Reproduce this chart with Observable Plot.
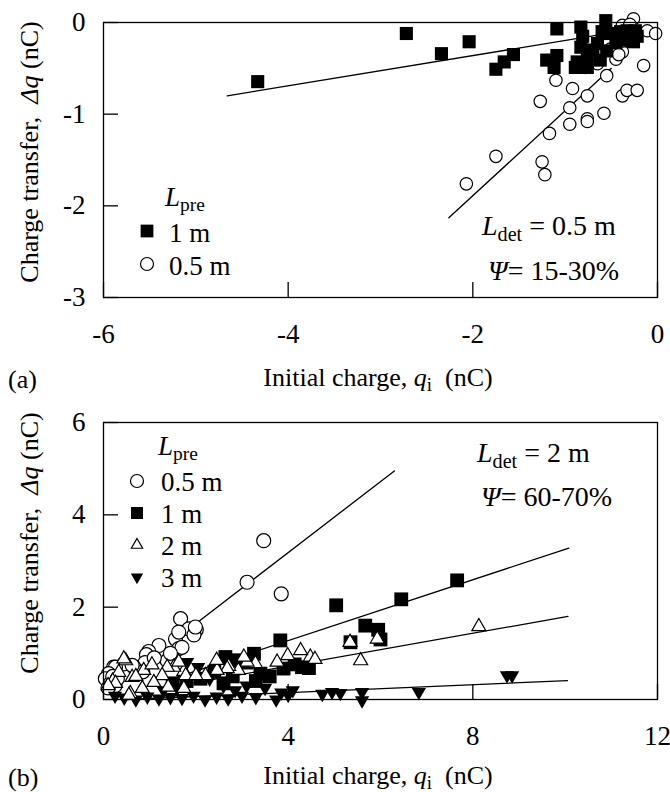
<!DOCTYPE html>
<html><head><meta charset="utf-8">
<script src="https://cdn.jsdelivr.net/npm/d3@7"></script>
<script src="https://cdn.jsdelivr.net/npm/@observablehq/plot@0.6"></script>
<style>
body{margin:0;background:#fff;}
#root{position:relative;width:670px;height:792px;font-family:"Liberation Serif","Times New Roman",Times,"DejaVu Serif",serif;color:#000;overflow:hidden;background:#fff}
.t{position:absolute;font-size:28px;line-height:1;white-space:nowrap;transform:translateY(-50%)}
.lg{font-size:27px}
.ttl{font-size:26px}
.c{transform:translate(-50%,-50%)}
.rot{transform:translate(-50%,-50%) rotate(-90deg)}
.sub{font-size:0.72em;vertical-align:-0.28em;line-height:1}
.panel{position:absolute;left:0}
.mk{position:absolute;overflow:visible}
svg text{font-family:"Liberation Serif","Times New Roman",Times,"DejaVu Serif",serif;}
</style></head><body><div id="root"></div>
<script>
// ---------- Panel (a) data: [initial charge qi (nC), charge transfer Δq (nC)] ----------
const xTicksA = [-6, -4, -2, 0];
const yTicksA = [-3, -2, -1, 0];
const a_1m = [[-4.33,-0.645],[-2.72,-0.12],[-2.34,-0.34],[-2.04,-0.21],[-1.75,-0.51],[-1.66,-0.43],[-1.56,-0.35],
  [-1.09,-0.07],[-1.20,-0.41],[-1.09,-0.36],[-1.12,-0.49],[-0.83,-0.05],[-0.81,-0.15],[-0.83,-0.27],[-0.87,-0.43],
  [-0.89,-0.49],[-0.76,-0.36],[-0.65,-0.23],[-0.56,0.02],[-0.62,-0.41],[-0.51,-0.12],[-0.55,-0.31],[-0.33,-0.09],
  [-0.24,-0.09],[-0.26,-0.21],[-0.37,-0.19],[-0.76,-0.49],[-0.70,-0.30],[-0.45,-0.22],[-0.40,-0.10],[-0.22,-0.15],[-0.60,-0.10]];
const a_05m = [[-0.26,0.04],[-0.38,-0.03],[-0.11,-0.09],[-0.02,-0.12],[-0.38,-0.32],[-0.37,-0.20],[-0.51,-0.29],
  [-0.15,-0.47],[-0.55,-0.58],[-0.78,-0.49],[-1.10,-0.63],[-0.92,-0.72],[-0.76,-0.80],[-1.27,-0.86],[-0.95,-0.93],
  [-0.58,-0.99],[-0.76,-1.05],[-0.76,-1.08],[-0.95,-1.11],[-1.17,-1.21],[-0.38,-0.80],[-0.33,-0.74],[-0.22,-0.74],
  [-2.07,-1.76],[-1.75,-1.46],[-1.25,-1.52],[-1.22,-1.66],[-0.30,-0.02],[-0.45,-0.40],[-0.65,-0.45],[-0.42,-0.35]];
const a_fit_1m = [[-4.66,-0.80],[-0.60,-0.13]];
const a_fit_05m = [[-2.26,-2.13],[-0.50,-0.50]];

// ---------- Panel (b) data ----------
const xTicksB = [0, 4, 8, 12];
const yTicksB = [0, 2, 4, 6];
const b_05m = [[3.47,3.44],[3.11,2.54],[3.85,2.29],[1.67,1.75],[1.85,1.53],[2.01,1.51],[1.96,1.40],[1.99,1.57],
  [1.56,1.31],[1.63,1.46],[1.20,1.17],[1.63,1.10],[1.70,1.13],[0.98,1.04],[0.93,0.97],[1.38,0.84],[0.90,0.80],
  [0.66,0.70],[0.44,0.77],[0.22,0.70],[0.85,0.60],[0.62,0.74],[0.26,0.70],[0.11,0.56],[0.04,0.45],[0.15,0.35],
  [0.20,0.50],[0.25,0.30],[0.10,0.25],[0.30,0.45],[1.10,0.90],[1.45,1.00]];
const b_1m = [[7.66,2.58],[6.45,2.17],[5.04,2.04],[5.67,1.60],[5.95,1.51],[6.00,1.30],[5.35,1.24],[4.30,0.70],
  [4.45,0.68],[3.83,1.28],[3.26,0.99],[2.64,0.92],[3.40,0.56],[3.90,0.67],[4.14,0.76],[2.90,0.85],[3.10,0.80],
  [2.40,0.60],[2.10,0.45],[1.80,0.40],[2.80,0.50],[3.60,0.50],[1.50,0.35],[2.60,0.35],[3.30,0.40]];
const b_2m = [[8.13,1.58],[5.93,1.31],[5.34,1.24],[5.57,0.84],[4.48,0.92],[4.58,0.87],[4.27,1.06],[3.99,0.95],
  [3.76,0.81],[3.29,0.78],[3.11,0.81],[3.04,0.92],[2.92,0.63],[2.71,0.72],[2.68,0.67],[2.46,0.63],[2.21,0.52],
  [1.74,0.61],[1.78,0.52],[2.00,0.52],[1.52,0.70],[1.63,0.81],[1.38,0.70],[1.27,0.52],[1.09,0.37],[0.87,0.63],
  [0.62,0.48],[0.48,0.84],[0.44,0.88],[0.33,0.59],[0.20,0.40],[0.26,0.35],[0.58,0.13],[0.55,0.09],[0.84,0.24],
  [1.74,0.24],[1.40,0.27],[0.70,0.50],[0.10,0.30],[1.05,0.75],[2.45,0.85]];
const b_3m = [[8.74,0.52],[8.85,0.52],[6.83,0.16],[5.60,0.16],[5.60,-0.02],[5.13,0.14],[4.95,0.16],[4.74,0.12],
  [4.00,0.10],[3.74,0.00],[3.30,0.05],[3.00,0.08],[2.70,0.02],[2.45,0.06],[2.20,0.00],[1.95,0.08],[1.70,0.03],
  [1.45,0.05],[1.20,0.02],[0.95,0.06],[0.70,0.00],[0.45,0.04],[0.25,0.08],[1.81,0.81],[2.05,0.70],[2.30,0.45],
  [2.60,0.30],[2.85,0.20],[3.10,0.30],[3.50,0.25],[1.60,0.25],[1.30,0.20],[3.85,0.15],[4.10,0.20]];
const b_fit_05m = [[1.80,1.49],[6.30,4.95]];
const b_fit_1m = [[1.50,0.45],[10.08,3.28]];
const b_fit_2m = [[1.50,0.28],[10.06,1.80]];
const b_fit_3m = [[0.50,0.00],[10.05,0.41]];

// ---------- drawing ----------
const FONT = '"Liberation Serif", "Times New Roman", Times, "DejaVu Serif", serif';
const triDown = {draw(ctx, size){ const y = Math.sqrt(size/(Math.sqrt(3)*3)), s = Math.sqrt(3);
  ctx.moveTo(0, 2*y); ctx.lineTo(s*y, -y); ctx.lineTo(-s*y, -y); ctx.closePath(); }};
const fmt = d => String(d);
const X = d => d[0], Y = d => d[1];
const style = {fontFamily: FONT, fontSize: "27px", color: "black", background: "transparent", overflow: "visible"};
const axes = (xt, yt) => [
  Plot.axisX({ticks: xt, tickSize: -15, tickPadding: 41, tickFormat: fmt, label: null, strokeWidth: 1.3, fontSize: 27}),
  Plot.axisY({ticks: yt, tickSize: -15, tickPadding: 33, tickFormat: fmt, label: null, strokeWidth: 1.3, fontSize: 27})
];
const fitLine = d => Plot.line(d, {x: X, y: Y, stroke: "black", strokeWidth: 1.3});

const plotA = Plot.plot({
  width: 670, height: 400, marginTop: 22, marginBottom: 103, marginLeft: 103, marginRight: 13,
  x: {domain: [-6, 0]}, y: {domain: [-3, 0]}, style,
  marks: [
    ...axes(xTicksA, yTicksA),
    fitLine(a_fit_1m), fitLine(a_fit_05m),
    Plot.dot(a_05m, {x: X, y: Y, symbol: "circle", r: 6.2, fill: "white", stroke: "black", strokeWidth: 1.2}),
    Plot.dot(a_1m, {x: X, y: Y, symbol: "square", r: 7.4, fill: "black", stroke: "none"}),
    Plot.frame({stroke: "black", strokeWidth: 1.3})
  ]
});
const plotB = Plot.plot({
  width: 670, height: 392, marginTop: 22, marginBottom: 93, marginLeft: 103, marginRight: 13,
  x: {domain: [0, 12]}, y: {domain: [0, 6]}, style,
  marks: [
    ...axes(xTicksB, yTicksB),
    fitLine(b_fit_05m), fitLine(b_fit_1m), fitLine(b_fit_2m), fitLine(b_fit_3m),
    Plot.dot(b_05m, {x: X, y: Y, symbol: "circle", r: 7, fill: "white", stroke: "black", strokeWidth: 1.2}),
    Plot.dot(b_1m, {x: X, y: Y, symbol: "square", r: 7.8, fill: "black", stroke: "none"}),
    Plot.dot(b_3m, {x: X, y: Y, symbol: triDown, r: 5.3, fill: "black", stroke: "none"}),
    Plot.dot(b_2m, {x: X, y: Y, symbol: "triangle", r: 5.2, fill: "white", stroke: "black", strokeWidth: 1.2}),
    Plot.frame({stroke: "black", strokeWidth: 1.3})
  ]
});

const root = document.getElementById("root");
const wa = document.createElement("div"); wa.className = "panel"; wa.style.top = "0px"; wa.appendChild(plotA); root.appendChild(wa);
const wb = document.createElement("div"); wb.className = "panel"; wb.style.top = "400px"; wb.appendChild(plotB); root.appendChild(wb);

function txt(html, left, top, cls = "t") {
  const el = document.createElement("div"); el.className = cls; el.innerHTML = html;
  el.style.left = left + "px"; el.style.top = top + "px"; root.appendChild(el); return el;
}
const ytitle = 'Charge transfer, &nbsp;<i>&Delta;q</i> (nC)';
const xtitle = 'Initial charge, <i>q</i><span class="sub">i</span> &nbsp;(nC)';
txt(ytitle, 30, 152, "t ttl rot");
txt(ytitle, 30, 543, "t ttl rot");
txt(xtitle, 378, 380, "t ttl c");
txt(xtitle, 378, 778, "t ttl c");
txt("(a)", 8, 380, "t ttl");
txt("(b)", 8, 778, "t ttl");
// annotations
txt('<i>L</i><span class="sub">det</span> = 0.5 m', 482, 228);
txt('<i>&Psi;</i>= 15-30%', 488, 271);
txt('<i>L</i><span class="sub">det</span> = 2 m', 477, 455);
txt('<i>&Psi;</i>= 60-70%', 481, 497);
// legends
function marker(type, cx, cy, size) {
  const ns = "http://www.w3.org/2000/svg";
  const s = document.createElementNS(ns, "svg");
  s.setAttribute("class", "mk"); s.setAttribute("width", 24); s.setAttribute("height", 24);
  s.setAttribute("viewBox", "-12 -12 24 24");
  s.style.left = (cx - 12) + "px"; s.style.top = (cy - 12) + "px";
  const p = document.createElementNS(ns, "path");
  const area = Math.PI * size * size;
  const sym = {circle: d3.symbolCircle, square: d3.symbolSquare, triangle: d3.symbolTriangle, tridown: triDown}[type];
  p.setAttribute("d", d3.symbol(sym, area)());
  const open = type === "circle" || type === "triangle";
  p.setAttribute("fill", open ? "white" : "black");
  p.setAttribute("stroke", open ? "black" : "none");
  p.setAttribute("stroke-width", 1.2);
  s.appendChild(p); root.appendChild(s);
}
txt('<i>L</i><span class="sub">pre</span>', 165, 199, "t lg");
marker("square", 147, 231, 7.2); txt("1 m", 169, 233, "t lg");
marker("circle", 147, 264, 6.5); txt("0.5 m", 169, 266, "t lg");

txt('<i>L</i><span class="sub">pre</span>', 158, 448, "t lg");
marker("circle", 137, 481, 6.5); txt("0.5 m", 161, 482, "t lg");
marker("square", 137, 513, 6.8); txt("1 m", 161, 514, "t lg");
marker("triangle", 137, 545, 4.2); txt("2 m", 161, 546, "t lg");
marker("tridown", 137, 577, 4.6); txt("3 m", 161, 578, "t lg");
</script></body></html>
